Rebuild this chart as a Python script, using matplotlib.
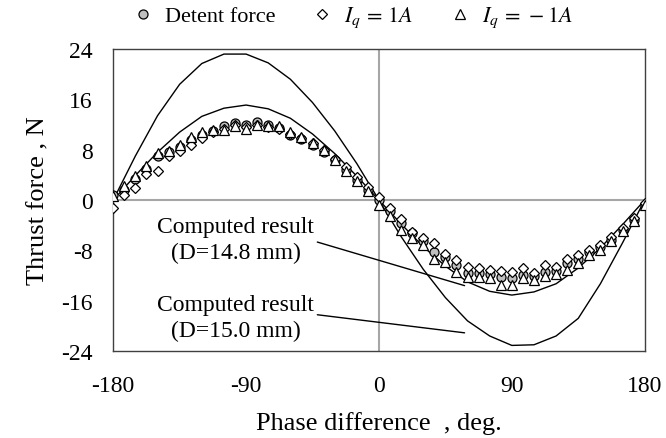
import numpy as np
import matplotlib
matplotlib.use("Agg")
import matplotlib.pyplot as plt

plt.rcParams['font.family'] = ['Liberation Serif', 'DejaVu Serif']
plt.rcParams['mathtext.fontset'] = 'stix'
plt.rcParams['axes.unicode_minus'] = False

# phase difference of the measured points, deg
phase = np.arange(-180, 180.1, 7.5)

# measured thrust, N
detent = [0.8, 1.6, 3.3, 5.0, 7.0, 7.6, 8.4, 9.5, 10.3, 11.0, 11.8, 12.2, 12.0,
          12.4, 11.9, 11.4, 10.4, 9.7, 8.8, 7.6, 6.3, 4.8, 3.2, 1.6, 0.0,
          -1.8, -3.6, -5.3, -6.5, -8.2, -9.0, -10.3, -11.6, -11.6, -11.8, -12.2,
          -12.4, -11.9, -12.1, -11.5, -11.2, -10.0, -9.4, -8.3, -7.4, -6.3, -4.8,
          -3.1, -0.8]
iq_pos = [-1.2, 0.8, 1.9, 4.2, 4.6, 7.0, 7.8, 8.8, 9.8, 10.8, 11.3, 12.0, 11.6,
          11.9, 11.6, 11.3, 10.5, 9.8, 9.0, 8.0, 6.6, 5.2, 3.6, 2.0, 0.5,
          -1.3, -3.0, -5.0, -6.0, -6.9, -8.5, -9.5, -10.6, -10.8, -11.1, -11.3,
          -11.4, -10.8, -11.6, -10.3, -10.6, -9.3, -8.7, -7.9, -7.1, -5.8, -4.4,
          -2.8, -0.5]
iq_neg = [0.6, 2.3, 3.8, 5.4, 7.4, 7.8, 8.8, 10.0, 10.8, 11.2, 11.2, 11.7, 11.3,
          12.0, 11.7, 11.8, 10.8, 10.0, 9.0, 7.9, 6.4, 4.6, 3.0, 1.4, -0.8,
          -2.5, -4.7, -6.0, -7.1, -9.3, -9.8, -11.4, -12.2, -12.2, -12.4, -13.5,
          -13.5, -12.4, -12.7, -12.1, -11.8, -11.1, -10.0, -8.7, -7.9, -6.5, -4.9,
          -3.3, -0.8]

# computed results, 15 deg step
phase_calc = np.arange(-180, 180.1, 15)
calc_148 = [0.0, 3.9, 7.6, 10.8, 13.3, 14.6, 15.1, 14.5, 13.0, 10.5, 7.4, 3.8, 0.0,
            -3.8, -7.4, -10.5, -13.0, -14.5, -15.1, -14.6, -13.3, -10.8, -7.6, -3.9, 0.0]
calc_150 = [0.0, 7.0, 13.4, 18.4, 21.7, 23.2, 23.2, 21.8, 19.2, 15.5, 11.0, 5.8, 0.0,
            -5.8, -11.0, -15.5, -19.2, -21.6, -23.1, -23.0, -21.6, -18.8, -13.3, -6.8, 0.0]

fig = plt.figure(figsize=(6.66, 4.39), dpi=100)
ax = fig.add_axes([0.170, 0.198, 0.798, 0.688])

ax.axhline(0, color='#a6a6a6', lw=1.5, zorder=1)
ax.axvline(0, color='#a6a6a6', lw=1.5, zorder=1)

ax.plot(phase_calc, calc_148, color='black', lw=1.0, zorder=2)
ax.plot(phase_calc, calc_150, color='black', lw=1.0, zorder=2)

ax.plot(phase, detent, 'o', ms=6.5, mfc='#bfbfbf', mec='black', mew=0.9,
        ls='none', zorder=3, label='Detent force')
ax.plot(phase, iq_pos, 'D', ms=5.5, mfc='white', mec='black', mew=0.9,
        ls='none', zorder=4, label=r'$I_q\,=\,1A$')
ax.plot(phase, iq_neg, '^', ms=6.5, mfc='white', mec='black', mew=0.9,
        ls='none', zorder=5, label=r'$I_q\,=\,-1A$')

# labels for the two computed curves
ax.annotate('Computed result\n(D=14.8 mm)', xy=(58, -13.6), xytext=(-97, -6.3),
            ha='center', va='center', fontsize=17, linespacing=1.3,
            arrowprops=dict(arrowstyle='-', color='black', lw=1.0,
                            shrinkA=0, shrinkB=0, relpos=(1.02, 0.45)))
ax.annotate('Computed result\n(D=15.0 mm)', xy=(58, -21.1), xytext=(-97, -18.6),
            ha='center', va='center', fontsize=17, linespacing=1.3,
            arrowprops=dict(arrowstyle='-', color='black', lw=1.0,
                            shrinkA=0, shrinkB=0, relpos=(1.02, 0.55)))

ax.set_xlim(-180, 180)
ax.set_ylim(-24, 24)
ax.set_xticks([-180, -90, 0, 90, 180])
ax.set_yticks([-24, -16, -8, 0, 8, 16, 24])
ax.tick_params(length=0, labelsize=17)
ax.tick_params(axis='x', pad=17)
ax.tick_params(axis='y', pad=15)
for s in ax.spines.values():
    s.set_color('#404040')
    s.set_linewidth(1.0)

ax.set_xlabel('Phase difference  , deg.', fontsize=19, labelpad=11)
ax.set_ylabel('Thrust force , N', fontsize=19, labelpad=8)

ax.legend(loc='center', bbox_to_anchor=(0.45, 1.106), ncol=3, frameon=False,
          fontsize=16, handlelength=1.0, handletextpad=0.5, columnspacing=1.6,
          borderaxespad=0.0)

fig.savefig('out.png', dpi=100)
